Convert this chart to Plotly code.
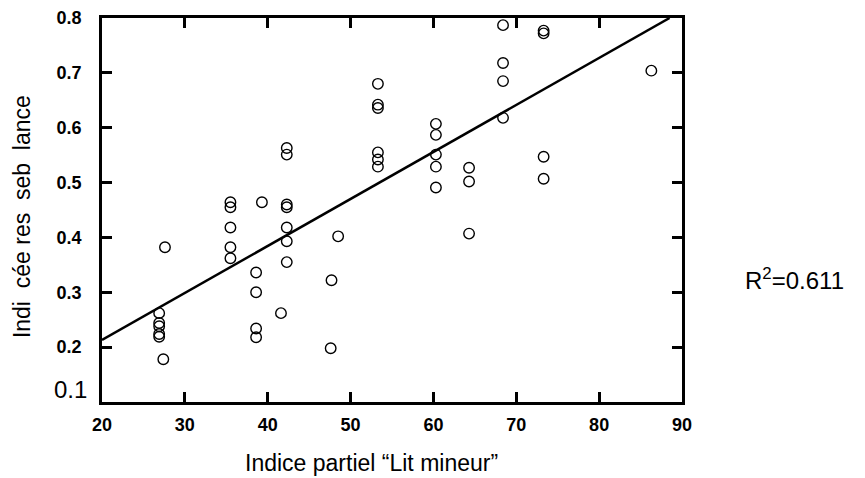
import plotly.graph_objects as go

# Observed points: x = "Lit mineur" partial index, y = vertical axis index
x_vals = [26.9, 26.9, 26.9, 26.9, 26.9, 27.4, 27.6,
          35.5, 35.5, 35.5, 35.5, 35.5,
          38.6, 38.6, 38.6, 38.6, 39.3,
          41.6, 42.3, 42.3, 42.3, 42.3, 42.3, 42.3, 42.3,
          47.6, 47.7, 48.5,
          53.3, 53.3, 53.3, 53.3, 53.3, 53.3,
          60.3, 60.3, 60.3, 60.3, 60.3,
          64.3, 64.3, 64.3,
          68.4, 68.4, 68.4, 68.4,
          73.3, 73.3, 73.3, 73.3,
          86.3]
y_vals = [0.262, 0.244, 0.238, 0.224, 0.219, 0.178, 0.382,
          0.464, 0.455, 0.418, 0.382, 0.362,
          0.336, 0.300, 0.234, 0.218, 0.464,
          0.262, 0.563, 0.551, 0.460, 0.455, 0.418, 0.393, 0.355,
          0.198, 0.322, 0.402,
          0.680, 0.642, 0.636, 0.555, 0.542, 0.529,
          0.607, 0.587, 0.551, 0.529, 0.491,
          0.527, 0.502, 0.407,
          0.787, 0.718, 0.685, 0.618,
          0.777, 0.772, 0.547, 0.507,
          0.704]

# Regression line (as drawn)
fit_x = [20, 88.5]
fit_y = [0.213, 0.80]
r2_text = "R<sup>2</sup>=0.611"

x_ticks = [20, 30, 40, 50, 60, 70, 80, 90]
y_ticks = [0.1, 0.2, 0.3, 0.4, 0.5, 0.6, 0.7, 0.8]

x_title = "Indice partiel “Lit mineur”"
y_title = "Indi&nbsp; cée res&nbsp; seb&nbsp; lance"

FONT = "Liberation Sans, Arial"

fig = go.Figure()
fig.add_trace(go.Scatter(x=fit_x, y=fit_y, mode="lines",
                         line=dict(color="black", width=2.5),
                         showlegend=False, hoverinfo="skip"))
fig.add_trace(go.Scatter(x=x_vals, y=y_vals, mode="markers",
                         marker=dict(symbol="circle-open", size=10.5, color="black",
                                     line=dict(width=1.4, color="black")),
                         showlegend=False, cliponaxis=False))

fig.update_xaxes(range=[20, 90], tickvals=x_ticks,
                 ticktext=[f"<b>{t}</b>" for t in x_ticks],
                 tickfont=dict(family=FONT, size=18, color="black"),
                 showline=True, linecolor="black", linewidth=2.5, mirror="ticks",
                 ticks="inside", ticklen=10, tickwidth=2.5, tickcolor="black",
                 showgrid=False, zeroline=False, ticklabelstandoff=5,
                 automargin=False)
fig.update_yaxes(range=[0.1, 0.8], tickvals=y_ticks,
                 ticktext=["" if t == 0.1 else f"<b>{t:.1f}</b>" for t in y_ticks],
                 tickfont=dict(family=FONT, size=18, color="black"),
                 showline=True, linecolor="black", linewidth=2.5, mirror="ticks",
                 ticks="inside", ticklen=10, tickwidth=2.5, tickcolor="black",
                 showgrid=False, zeroline=False, ticklabelstandoff=14,
                 automargin=False)

fig.add_annotation(x=0, xref="paper", y=y_ticks[0], yref="y", text=f"{y_ticks[0]}",
                   showarrow=False, xanchor="right", yanchor="middle",
                   xshift=-13, yshift=13,
                   font=dict(family=FONT, size=24, color="black"))
fig.add_annotation(x=-0.138, xref="paper", y=0.484, yref="paper", text=y_title,
                   textangle=-90, showarrow=False, xanchor="center", yanchor="middle",
                   font=dict(family=FONT, size=23, color="black"))
fig.add_annotation(x=0.4655, xref="paper", y=-0.159, yref="paper", text=x_title,
                   showarrow=False, xanchor="center", yanchor="middle",
                   font=dict(family=FONT, size=23, color="black"))
fig.add_annotation(x=1.105, xref="paper", y=0.32, yref="paper", text=r2_text,
                   showarrow=False, xanchor="left", yanchor="middle",
                   font=dict(family=FONT, size=24, color="black"))

# The page body adds an 8 px offset, so the figure is 8 px smaller
fig.update_layout(width=857, height=470,
                  margin=dict(l=94, r=183, t=10, b=76),
                  paper_bgcolor="white", plot_bgcolor="white")

fig.write_html("out.html")
